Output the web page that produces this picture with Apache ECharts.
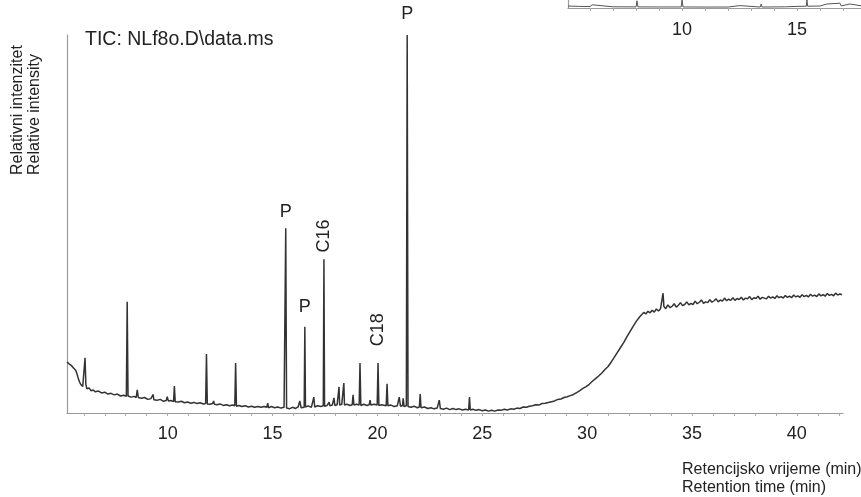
<!DOCTYPE html>
<html>
<head>
<meta charset="utf-8">
<title>TIC: NLf8o.D\data.ms</title>
<script src="https://cdn.jsdelivr.net/npm/echarts@6/dist/echarts.min.js"></script>
<style>
  html, body { margin: 0; padding: 0; background: #fff; }
  #chart { width: 861px; height: 497px; }
</style>
</head>
<body>
<div id="chart"></div>
<script>
// retention time (min) and relative intensity (% of the largest peak)
var timeA = [5.2, 5.3, 5.4, 5.5, 5.6, 5.65, 5.7, 5.75, 5.8, 5.85, 5.9, 5.95, 6.02, 6.06, 6.1, 6.15, 6.25, 6.35, 6.45, 6.55,
  6.7, 6.85, 7.0, 7.15, 7.3, 7.45, 7.6, 7.75, 7.9, 8.03, 8.07, 8.11, 8.25, 8.4, 8.5, 8.55, 8.6, 8.75, 8.9, 9.05,
  9.2, 9.28, 9.31, 9.34, 9.5, 9.65, 9.8, 9.93, 9.98, 10.03, 10.15, 10.28, 10.32, 10.36, 10.5, 10.65, 10.8, 10.95, 11.1, 11.25,
  11.4, 11.55, 11.7, 11.81, 11.85, 11.89, 12.0, 12.15, 12.19, 12.23, 12.35, 12.5, 12.65, 12.8, 12.95, 13.1, 13.2, 13.24, 13.28, 13.4,
  13.55, 13.7, 13.85, 14.0, 14.15, 14.3, 14.45, 14.6, 14.73, 14.77, 14.81, 14.95, 15.1, 15.25, 15.4, 15.55, 15.6, 15.63, 15.67];
var signalA = [13.5, 13.0, 12.6, 12.0, 11.4, 10.8, 9.9, 8.9, 8.2, 7.6, 7.2, 7.0, 7.3, 14.6, 7.5, 6.4, 6.6, 5.9, 6.1, 5.6,
  5.8, 5.3, 5.5, 5.0, 5.2, 4.8, 5.0, 4.5, 4.7, 4.4, 29.4, 4.5, 4.2, 4.4, 4.1, 6.1, 4.1, 3.9, 4.1, 3.6,
  3.8, 3.6, 4.9, 3.5, 3.4, 3.6, 3.1, 3.3, 4.3, 3.2, 3.3, 3.0, 7.1, 3.0, 2.9, 3.1, 2.7, 2.9, 2.6, 2.8,
  2.5, 2.7, 2.4, 2.5, 15.6, 2.4, 2.3, 2.5, 3.2, 2.3, 2.2, 2.4, 2.0, 2.2, 1.9, 2.1, 1.9, 13.2, 1.8, 2.0,
  1.7, 1.9, 1.6, 1.8, 1.5, 1.7, 1.5, 1.7, 1.5, 2.6, 1.4, 1.7, 1.4, 1.6, 1.3, 1.5, 1.4, 48.9, 1.3];

var timeB = [15.8, 15.95, 16.1, 16.22, 16.3, 16.36, 16.45, 16.51, 16.54, 16.57, 16.7, 16.85, 16.93, 16.97, 17.01, 17.15, 17.3, 17.42, 17.45, 17.48,
  17.6, 17.67, 17.7, 17.73, 17.85, 17.9, 17.93, 17.97, 18.08, 18.14, 18.17, 18.2, 18.3, 18.37, 18.4, 18.43, 18.55, 18.7, 18.8, 18.84,
  18.88, 19.0, 19.13, 19.17, 19.21, 19.35, 19.5, 19.61, 19.65, 19.69, 19.85, 19.99, 20.03, 20.07, 20.2, 20.42, 20.46, 20.5, 20.65, 20.8,
  20.95, 21.04, 21.1, 21.2, 21.23, 21.27, 21.38, 21.42, 21.46, 21.6, 21.75, 21.9, 22.0, 22.04, 22.08, 22.25, 22.4, 22.55, 22.7, 22.85,
  22.95, 23.0, 23.15, 23.3, 23.45, 23.6, 23.75, 23.9, 24.05, 24.2, 24.35, 24.39, 24.43, 24.55, 24.7, 24.85, 25.0];
var signalB = [1.1, 1.5, 1.2, 1.6, 3.2, 1.4, 1.7, 1.5, 22.8, 1.6, 1.9, 1.5, 1.7, 4.2, 1.6, 1.9, 1.7, 1.9, 40.7, 1.8,
  2.0, 1.9, 2.9, 1.9, 2.1, 2.0, 4.0, 2.0, 2.2, 2.1, 6.9, 2.1, 2.3, 2.2, 7.9, 2.1, 2.3, 2.0, 2.2, 4.8,
  2.1, 2.3, 2.1, 13.2, 2.0, 2.3, 2.0, 2.2, 3.4, 2.1, 2.3, 2.1, 13.2, 2.0, 2.2, 1.9, 7.7, 1.9, 2.1, 1.7,
  1.9, 4.2, 1.8, 2.0, 3.9, 1.7, 1.9, 100, 1.7, 1.5, 1.8, 1.4, 1.6, 5.0, 1.4, 1.6, 1.2, 1.4, 1.1, 1.3,
  3.4, 1.2, 1.0, 1.3, 0.9, 1.2, 0.9, 1.1, 0.8, 1.0, 0.8, 4.2, 0.8, 1.0, 0.7, 0.9, 0.6];

var timeC = [25.15, 25.3, 25.45, 25.6, 25.75, 25.9, 26.05, 26.2, 26.35, 26.5, 26.65, 26.8, 26.95, 27.1, 27.25, 27.4, 27.55, 27.7, 27.85, 28.0,
  28.15, 28.3, 28.45, 28.6, 28.75, 28.9, 29.05, 29.2, 29.35, 29.5, 29.65, 29.8, 29.95, 30.1, 30.25, 30.4, 30.55, 30.7, 30.85, 31.0,
  31.15, 31.3, 31.45, 31.6, 31.75, 31.9, 32.05, 32.2, 32.35, 32.5, 32.6, 32.7, 32.8, 32.9, 33.0, 33.1, 33.2, 33.3, 33.4, 33.5,
  33.58, 33.62, 33.66, 33.75, 33.85, 33.95, 34.05, 34.15, 34.25, 34.35, 34.45, 34.55, 34.65, 34.75, 34.85, 34.95, 35.05, 35.15, 35.25, 35.35,
  35.45, 35.55, 35.65, 35.75, 35.85, 35.95, 36.05, 36.15, 36.25, 36.35, 36.45, 36.55, 36.65, 36.75, 36.85, 36.95, 37.05, 37.15, 37.25, 37.35,
  37.45, 37.55, 37.65, 37.75, 37.85, 37.95, 38.05, 38.15, 38.25, 38.35, 38.45, 38.55, 38.65, 38.75, 38.85, 38.95, 39.05, 39.15, 39.25, 39.35,
  39.45, 39.55, 39.65, 39.75, 39.85, 39.95, 40.05, 40.15, 40.25, 40.35, 40.45, 40.55, 40.65, 40.75, 40.85, 40.95, 41.05, 41.15, 41.25, 41.35,
  41.45, 41.55, 41.65, 41.75, 41.85, 41.95, 42.05, 42.15];
var signalC = [0.8, 0.5, 0.7, 0.5, 0.8, 0.7, 1.0, 0.8, 1.1, 1.0, 1.3, 1.2, 1.6, 1.5, 1.8, 1.9, 2.2, 2.1, 2.5, 2.6,
  2.8, 3.0, 3.2, 3.6, 3.7, 4.1, 4.3, 4.6, 4.9, 5.4, 5.9, 6.5, 7.0, 7.6, 8.4, 9.1, 9.8, 10.6, 11.5, 12.3,
  13.5, 14.8, 16.1, 17.4, 18.7, 20.2, 21.6, 23.0, 24.3, 25.4, 26.0, 26.6, 26.2, 26.9, 26.5, 27.2, 26.7, 27.5, 27.0, 27.6,
  27.3, 31.7, 28.2, 27.6, 28.6, 27.9, 28.2, 28.9, 28.0, 28.5, 29.2, 28.4, 28.7, 29.4, 28.6, 29.0, 28.7, 29.6, 28.9, 29.3,
  29.9, 29.0, 29.4, 29.2, 30.0, 29.3, 29.7, 30.2, 29.4, 29.9, 29.6, 30.4, 29.7, 30.1, 29.8, 30.5, 29.8, 30.3, 30.0, 30.6,
  29.9, 30.4, 30.2, 30.8, 30.0, 30.5, 30.3, 30.9, 30.1, 30.6, 30.4, 30.2, 30.9, 30.4, 30.7, 30.3, 31.0, 30.5, 30.8, 30.4,
  31.1, 30.6, 30.9, 30.5, 31.2, 30.7, 31.0, 30.6, 31.3, 30.8, 31.1, 30.7, 31.4, 30.9, 31.2, 30.8, 31.5, 31.0, 31.3, 30.9,
  31.6, 31.1, 31.4, 31.0, 31.7, 31.2, 31.5, 31.3];

// peak labels: [retention time, label height, text, rotated, vertical offset px]
var peakLabels = [
  [21.42, 100, 'P', false, -21],
  [15.63, 53.2, 'P', false, 0],
  [16.54, 28.0, 'P', false, 0],
  [17.45, 46.8, 'C16', true, 0],
  [20.03, 22.0, 'C18', true, 0]
];

var xLabels = [10, 15, 20, 25, 30, 35, 40];
var xTicks = [6, 7, 8, 9, 10, 11, 12, 13, 14, 15, 16, 17, 18, 19, 20, 21, 22, 23, 24, 25,
  26, 27, 28, 29, 30, 31, 32, 33, 34, 35, 36, 37, 38, 39, 40, 41, 42];

// cut-off neighbouring panel at the top right
var insetTime = [5.04, 5.5, 6.0, 6.09, 6.15, 7.0, 8.0, 8.04, 8.08, 9.0, 9.96, 10.0, 10.04, 11.0, 12.0, 12.5, 12.55, 13.4, 13.44, 13.48,
  14.5, 15.0, 15.4, 15.43, 15.46, 16.0, 16.3, 16.35, 16.87, 16.92, 17.3, 17.35, 17.78];
var insetSignal = [2.5, 2.0, 1.8, 4.0, 1.6, 1.5, 1.4, 9.0, 1.4, 1.3, 1.3, 10, 1.3, 1.2, 1.2, 3.0, 1.2, 1.2, 5.0, 1.2,
  1.5, 2.0, 2.2, 10, 2.2, 2.5, 5.0, 2.5, 6.0, 2.6, 5.0, 2.7, 2.8];
var insetLabels = [10, 15];
var insetTicks = [6, 7, 8, 9, 10, 11, 12, 13, 14, 15, 16, 17];

function pairs(t, v) {
  var out = [];
  for (var i = 0; i < t.length; i++) out.push([t[i], v[i]]);
  return out;
}

var traceData = pairs(timeA, signalA).concat(pairs(timeB, signalB), pairs(timeC, signalC));

var textColor = '#222';
var fontFamily = 'Liberation Sans, Arial, sans-serif';

var chart = echarts.init(document.getElementById('chart'), null, { renderer: 'canvas' });

chart.setOption({
  animation: false,
  backgroundColor: '#fff',
  grid: [
    { left: 67, right: 18, top: 35, bottom: 84 },
    { left: 568, right: 0, top: 0, height: 8 }
  ],
  xAxis: [
    {
      type: 'value',
      gridIndex: 0,
      min: 5.2,
      max: 42.2,
      axisLine: { show: true, lineStyle: { color: '#9a9a9a', width: 1.2 } },
      axisTick: { show: true, customValues: xTicks, length: 3, lineStyle: { color: '#aaa' } },
      axisLabel: {
        customValues: xLabels,
        color: textColor,
        fontSize: 18,
        fontFamily: fontFamily,
        margin: 12
      },
      splitLine: { show: false }
    },
    {
      type: 'value',
      gridIndex: 1,
      min: 5.04,
      max: 17.78,
      axisLine: { show: true, lineStyle: { color: '#9a9a9a', width: 1.2 } },
      axisTick: { show: true, customValues: insetTicks, length: 3, lineStyle: { color: '#aaa' } },
      axisLabel: {
        customValues: insetLabels,
        color: textColor,
        fontSize: 18,
        fontFamily: fontFamily,
        margin: 13
      },
      splitLine: { show: false }
    }
  ],
  yAxis: [
    {
      type: 'value',
      gridIndex: 0,
      min: 0,
      max: 100,
      axisLine: { show: true, lineStyle: { color: '#9a9a9a', width: 1.2 } },
      axisTick: { show: false },
      axisLabel: { show: false },
      splitLine: { show: false }
    },
    {
      type: 'value',
      gridIndex: 1,
      min: 0,
      max: 10,
      axisLine: { show: true, lineStyle: { color: '#9a9a9a', width: 1.2 } },
      axisTick: { show: false },
      axisLabel: { show: false },
      splitLine: { show: false }
    }
  ],
  series: [
    {
      type: 'line',
      xAxisIndex: 0,
      yAxisIndex: 0,
      data: traceData,
      showSymbol: false,
      sampling: null,
      lineStyle: { color: '#333', width: 1.5 },
      markPoint: {
        symbol: 'circle',
        symbolSize: 0,
        silent: true,
        data: peakLabels.map(function (p) {
          return {
            coord: [p[0], p[1]],
            name: p[2],
            label: {
              show: true,
              position: 'inside',
              formatter: '{b}',
              rotate: p[3] ? 90 : 0,
              offset: [0, p[4]],
              color: textColor,
              fontSize: 18,
              fontFamily: fontFamily
            }
          };
        })
      }
    },
    {
      type: 'line',
      xAxisIndex: 1,
      yAxisIndex: 1,
      data: pairs(insetTime, insetSignal),
      showSymbol: false,
      lineStyle: { color: '#555', width: 1 }
    }
  ],
  graphic: [
    {
      type: 'text',
      left: 85,
      top: 30,
      style: { text: 'TIC: NLf8o.D\\data.ms', fill: textColor, fontSize: 19.5, fontFamily: fontFamily }
    },
    {
      type: 'text',
      x: 26,
      y: 175,
      rotation: Math.PI / 2,
      style: {
        text: 'Relativni intenzitet\nRelative intensity',
        fill: textColor,
        fontSize: 16,
        lineHeight: 17,
        fontFamily: fontFamily,
        align: 'left',
        verticalAlign: 'middle'
      }
    },
    {
      type: 'text',
      left: 682,
      top: 461,
      style: {
        text: 'Retencijsko vrijeme (min)\nRetention time (min)',
        fill: textColor,
        fontSize: 16,
        lineHeight: 18,
        fontFamily: fontFamily
      }
    }
  ]
});
</script>
</body>
</html>
